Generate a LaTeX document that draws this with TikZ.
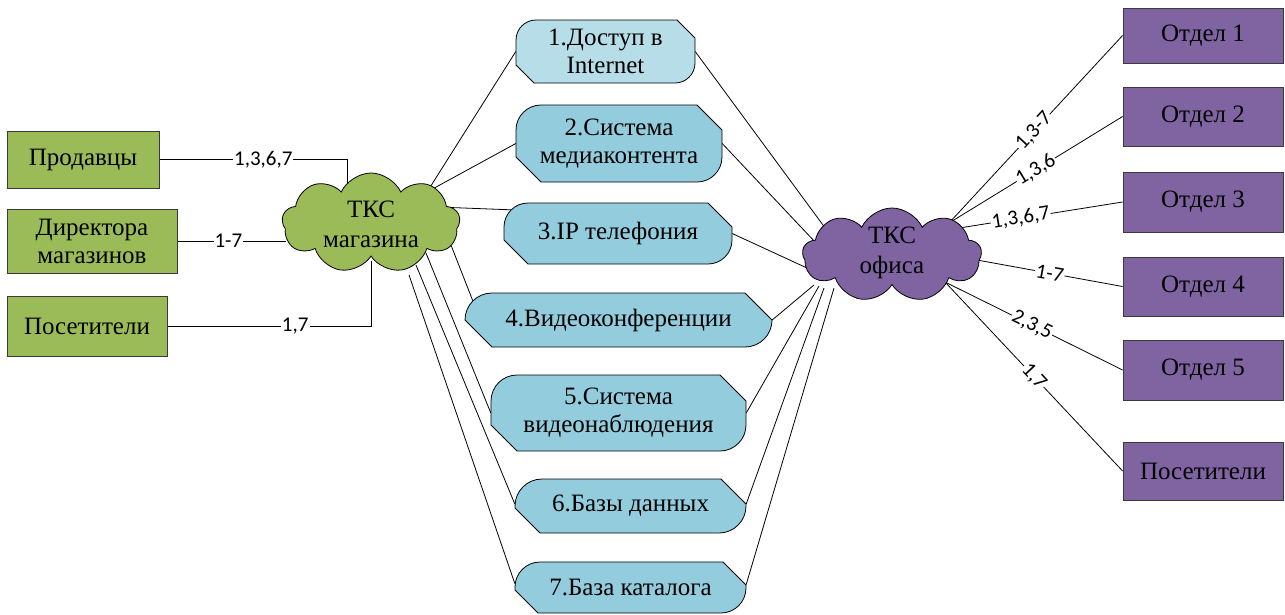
\documentclass[tikz,border=0pt]{standalone}
\usepackage{fontspec}
\setmainfont{Liberation Serif}
\newfontfamily\lblfont{Carlito}
\usetikzlibrary{shapes.symbols}
\definecolor{grn}{HTML}{9BBB59}
\definecolor{prp}{HTML}{8064A2}
\definecolor{lbA}{HTML}{B7DEE8}
\definecolor{lbB}{HTML}{93CDDD}
\definecolor{edgec}{HTML}{3A3A3A}
\pgfdeclarelayer{background}
\pgfsetlayers{background,main}
\tikzset{
  svcline/.style={draw=black, line width=0.8pt},
  svctext/.style={draw=none, fill=none, inner sep=0pt, align=center, font=\fontsize{25}{28}\selectfont},
  rbox/.style={draw=edgec, line width=0.8pt, inner sep=0pt, align=center, font=\fontsize{25}{28}\selectfont},
  gbox/.style={rbox, fill=grn},
  pbox/.style={rbox, fill=prp, minimum width=160pt},
  tkscloud/.style={cloud, cloud puffs=9, cloud puff arc=130, aspect=1.9, draw=black, line width=0.8pt, inner sep=0pt},
  cloudtext/.style={inner sep=0pt, align=center, font=\fontsize{25}{30}\selectfont},
  conn/.style={draw=black, line width=0.8pt},
  lbl/.style={fill=white, inner sep=1pt, font=\lblfont\fontsize{21}{21}\selectfont}
}
\newcommand\svcbox[9]{%
  \draw[svcline, fill=#8] ({#2+#7},#3) -- ({#4-#6},#3) -- (#4,{#3+#6}) -- (#4,{#5-#7})
    .. controls (#4,{#5-0.4477*#7}) and ({#4-0.4477*#7},#5) .. ({#4-#7},#5)
    -- ({#2+#6},#5) -- (#2,{#5-#6}) -- (#2,{#3+#7})
    .. controls (#2,{#3+0.4477*#7}) and ({#2+0.4477*#7},#3) .. ({#2+#7},#3) -- cycle;
  \node[svctext, minimum width={#4-#2}, minimum height={#5-#3}] (#1) at ({(#2+#4)/2},{(#3+#5)/2}) {#9};
}
\begin{document}
\begin{tikzpicture}[x=1pt,y=-1pt]
\useasboundingbox (0,0) rectangle (1285,614);

% left boxes
\node[gbox, minimum width=152pt, minimum height=57pt] (prod) at (83,159.5) {Продавцы};
\node[gbox, minimum width=170pt, minimum height=64pt] (dir) at (92,241) {Директора\\магазинов};
\node[gbox, minimum width=160pt, minimum height=60pt] (posl) at (87,326) {Посетители};

% clouds
\node[tkscloud, fill=grn, minimum width=178pt, minimum height=100pt] (shop) at (371,223) {};
\node[cloudtext] (shoptxt) at (371,224) {ТКС\\магазина};
\node[tkscloud, fill=prp, minimum width=179pt, minimum height=94pt] (office) at (892,255) {};
\node[cloudtext] (officetxt) at (892,253) {ТКС\\офиса};

% service boxes
\svcbox{s1}{516}{20}{695}{83}{18}{20}{lbA}{1.Доступ в\\Internet}
\svcbox{s2}{516}{105}{722}{182}{25}{25}{lbB}{2.Система\\медиаконтента}
\svcbox{s3}{504}{203}{732}{264}{24}{24}{lbB}{3.IP телефония}
\svcbox{s4}{465}{293}{772}{347}{27}{27}{lbB}{4.Видеоконференции}
\svcbox{s5}{491}{375}{746}{451}{26}{26}{lbB}{5.Система\\видеонаблюдения}
\svcbox{s6}{515}{479}{746}{533}{25}{27}{lbB}{6.Базы данных}
\svcbox{s7}{515}{562}{746}{613}{23}{25}{lbB}{7.База каталога}

% departments
\node[pbox, minimum height=55pt] (d1) at (1203,35.5) {Отдел 1};
\node[pbox, minimum height=59pt] (d2) at (1203,116.5) {Отдел 2};
\node[pbox, minimum height=60pt] (d3) at (1203,202) {Отдел 3};
\node[pbox, minimum height=59pt] (d4) at (1203,286.5) {Отдел 4};
\node[pbox, minimum height=60pt] (d5) at (1203,370) {Отдел 5};
\node[pbox, minimum height=58pt] (d6) at (1203,471) {Посетители};

\coordinate (shopL) at ([xshift=-85pt]shop.center);
\coordinate (shopT) at ([shift={(-24,-38)}]shop.center);
\coordinate (shopB) at ([shift={(0,38)}]shop.center);

\begin{pgfonlayer}{background}
% left connections
\draw[conn] (prod.east) -| node[lbl, pos=0.277] {1,3,6,7} (shopT);
\draw[conn] (dir.east) -- node[lbl, pos=0.47] {1-7} (dir.east -| shopL);
\draw[conn] (posl.east) -| node[lbl, pos=0.314] {1,7} (shopB);

% shop to services
\draw[conn] ([shift={(56,-31)}]shop.center) -- (s1.west);
\draw[conn] ([shift={(56,-31)}]shop.center) -- (s2.west);
\draw[conn] ([shift={(66,-16)}]shop.center) -- ([shift={(7,7)}]s3.north west);
\draw[conn] ([shift={(78,17)}]shop.center) -- ([shift={(8,8)}]s4.north west);
\draw[conn] ([shift={(55,30)}]shop.center) -- (s5.west);
\draw[conn] ([shift={(45,42)}]shop.center) -- ([yshift=2pt]s6.west);
\draw[conn] ([shift={(38,52)}]shop.center) -- ([yshift=4pt]s7.west);

% services to office
\draw[conn] (s1.east) -- ([shift={(-58,-15)}]office.center);
\draw[conn] (s2.east) -- ([shift={(-76,-12)}]office.center);
\draw[conn] (s3.east) -- ([shift={(-85,13)}]office.center);
\draw[conn] (s4.east) -- ([shift={(-78,30)}]office.center);
\draw[conn] (s5.east) -- ([shift={(-73,31)}]office.center);
\draw[conn] ([yshift=2pt]s6.east) -- ([shift={(-68,33)}]office.center);
\draw[conn] ([yshift=3pt]s7.east) -- ([shift={(-58,33)}]office.center);

% office to departments
\draw[conn] ([shift={(57,-32)}]office.center) -- node[lbl, sloped, pos=0.49] {1,3-7} (d1.west);
\draw[conn] ([shift={(57,-32)}]office.center) -- node[lbl, sloped, pos=0.5] {1,3,6} (d2.west);
\draw[conn] ([shift={(61,-26)}]office.center) -- node[lbl, sloped, pos=0.4] {1,3,6,7} (d3.west);
\draw[conn] ([shift={(85,5)}]office.center) -- node[lbl, sloped, pos=0.5] {1-7} (d4.west);
\draw[conn] ([shift={(53,27)}]office.center) -- node[lbl, sloped, pos=0.49] {2,3,5} (d5.west);
\draw[conn] ([shift={(53,27)}]office.center) -- node[lbl, sloped, pos=0.5] {1,7} (d6.west);
\end{pgfonlayer}
\end{tikzpicture}
\end{document}
